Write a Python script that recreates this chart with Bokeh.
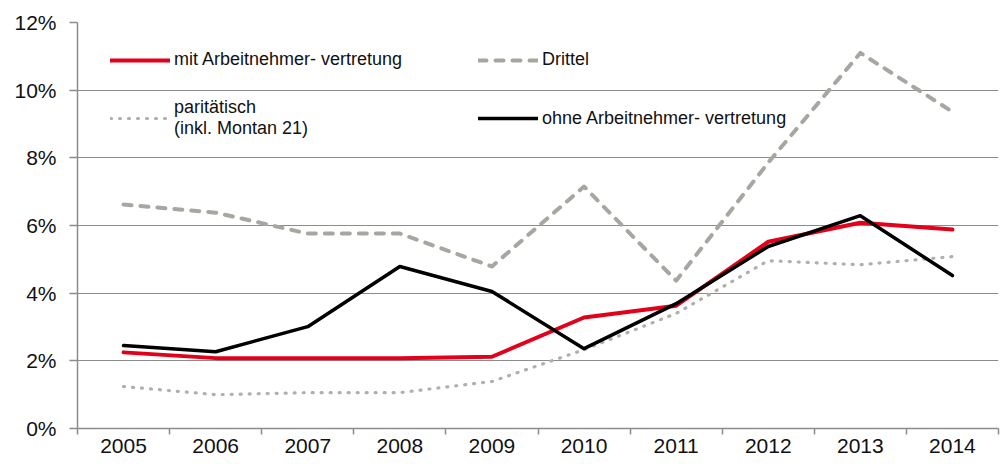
from bokeh.plotting import figure
from bokeh.models import FixedTicker, Legend, LegendItem, Range1d
from bokeh.embed import file_html
from bokeh.resources import INLINE

years = ["2005", "2006", "2007", "2008", "2009", "2010", "2011", "2012", "2013", "2014"]
mit_av = [2.25, 2.08, 2.08, 2.08, 2.12, 3.28, 3.63, 5.52, 6.08, 5.88]
drittel = [6.62, 6.38, 5.76, 5.76, 4.79, 7.15, 4.37, 7.86, 11.1, 9.36]
paritaetisch = [1.24, 1.0, 1.06, 1.06, 1.39, 2.33, 3.4, 4.96, 4.84, 5.08]
ohne_av = [2.45, 2.27, 3.01, 4.79, 4.05, 2.36, 3.69, 5.38, 6.29, 4.52]
y_ticks = [0, 2, 4, 6, 8, 10, 12]

xs = [i + 0.5 for i in range(len(years))]
FONT = "Liberation Sans"

p = figure(width=1000, height=460, output_backend="svg", toolbar_location=None,
           x_range=Range1d(0, len(years)), y_range=Range1d(0, 12),
           min_border_left=77, min_border_right=2, min_border_top=22, min_border_bottom=32)
p.outline_line_color = None
p.background_fill_color = "white"

# axes
p.xaxis.ticker = FixedTicker(ticks=xs, minor_ticks=list(range(len(years) + 1)))
p.xaxis.major_label_overrides = {x: y for x, y in zip(xs, years)}
p.xaxis.major_tick_line_color = None
p.xaxis.minor_tick_line_color = "#8c8c8c"
p.xaxis.minor_tick_line_width = 1.5
p.xaxis.minor_tick_out = 6
p.xaxis.minor_tick_in = 0
p.xaxis.axis_line_color = "#8c8c8c"
p.xaxis.axis_line_width = 1.5
p.xaxis.major_label_standoff = 4
p.xaxis.major_label_text_font = FONT
p.xaxis.major_label_text_font_size = "21px"
p.xaxis.major_label_text_color = "#111111"

p.yaxis.ticker = FixedTicker(ticks=y_ticks)
p.yaxis.major_label_overrides = {t: f"{t}%" for t in y_ticks}
p.yaxis.minor_tick_line_color = None
p.yaxis.major_tick_line_color = "#8c8c8c"
p.yaxis.major_tick_line_width = 1.5
p.yaxis.major_tick_out = 8
p.yaxis.major_tick_in = 0
p.yaxis.axis_line_color = "#8c8c8c"
p.yaxis.axis_line_width = 1.5
p.yaxis.major_label_standoff = 13
p.yaxis.major_label_text_font = FONT
p.yaxis.major_label_text_font_size = "21px"
p.yaxis.major_label_text_color = "#111111"

p.xgrid.grid_line_color = None
p.ygrid.ticker = FixedTicker(ticks=y_ticks[1:])
p.ygrid.grid_line_color = "#8c8c8c"
p.ygrid.grid_line_width = 1.2

# series
r_mit = p.line(xs, mit_av, line_color="#e2001a", line_width=4, line_cap="round", line_join="round")
r_dri = p.line(xs, drittel, line_color="#a6a7a0", line_width=4, line_dash="8 9", line_cap="round", line_join="round")
r_par = p.line(xs, paritaetisch, line_color="#aeb1a8", line_width=3.2, line_dash="1 8", line_cap="round", line_join="round")
r_ohne = p.line(xs, ohne_av, line_color="#000000", line_width=3.5, line_cap="round", line_join="round")

legend = Legend(items=[
    LegendItem(label="mit Arbeitnehmer- vertretung", renderers=[r_mit]),
    LegendItem(label="paritätisch\n(inkl. Montan 21)", renderers=[r_par]),
    LegendItem(label="Drittel", renderers=[r_dri]),
    LegendItem(label="ohne Arbeitnehmer- vertretung", renderers=[r_ohne]),
], ncols=2, location=(33, 289), orientation="vertical")
legend.background_fill_alpha = 0
legend.border_line_color = None
legend.glyph_width = 60
legend.glyph_height = 20
legend.label_width = 277
legend.label_text_font = FONT
legend.label_text_font_size = "18px"
legend.label_text_color = "#111111"
legend.label_standoff = 4
legend.spacing = 27
legend.padding = 0
legend.margin = 0
p.add_layout(legend, "center")

open("out.html", "w").write(file_html(p, INLINE))
